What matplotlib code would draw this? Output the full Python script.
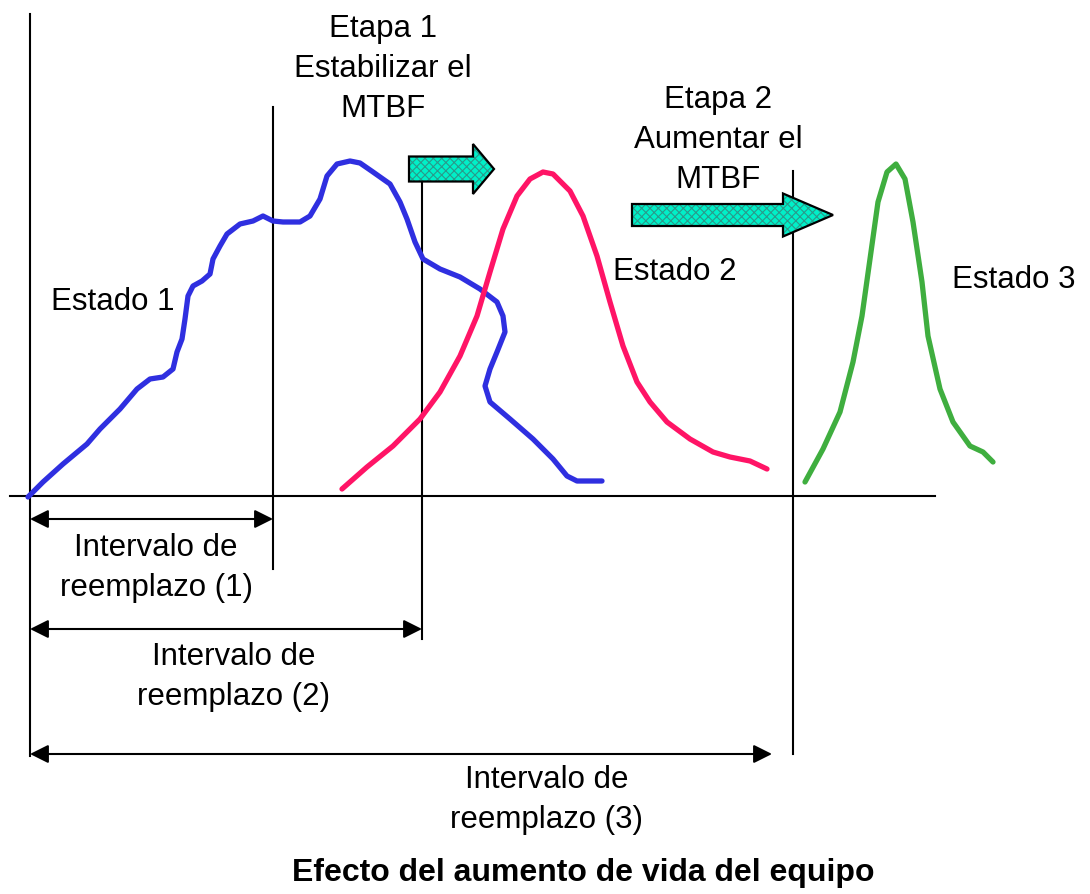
import matplotlib
matplotlib.use("Agg")
import matplotlib.pyplot as plt
from matplotlib.patches import FancyArrow

# curves (pixel coordinates, y downwards)
estado1_x = [28, 43, 63, 87, 100, 120, 137, 150, 163, 173, 177, 182, 185, 188, 193, 202, 210, 213,
             220, 227, 240, 253, 263, 273, 283, 300, 310, 320, 327, 337, 350, 360, 373, 390, 400,
             407, 415, 423, 440, 460, 480, 497, 503, 505, 497, 490, 485, 490, 510, 533, 553, 567,
             577, 602]
estado1_y = [498, 483, 465, 445, 430, 410, 390, 380, 378, 370, 353, 340, 320, 297, 287, 282, 275, 260,
             247, 235, 225, 222, 217, 222, 223, 223, 217, 200, 177, 165, 162, 164, 173, 185, 203,
             220, 243, 260, 270, 278, 290, 303, 317, 333, 353, 370, 387, 403, 420, 440, 460, 477,
             482, 482]
estado2_x = [342, 367, 393, 420, 440, 460, 477, 490, 503, 517, 530, 543, 553, 570, 583, 597, 610,
             623, 637, 650, 667, 690, 713, 730, 750, 767]
estado2_y = [490, 468, 447, 420, 393, 357, 317, 273, 230, 197, 180, 173, 175, 192, 217, 257, 303,
             347, 383, 403, 423, 440, 453, 458, 462, 470]
estado3_x = [805, 823, 840, 853, 862, 870, 878, 887, 896, 905, 913, 922, 928, 940, 953, 970, 983, 993]
estado3_y = [483, 450, 413, 363, 317, 260, 203, 173, 165, 180, 223, 283, 337, 390, 423, 447, 453, 463]

interval_ends = [273, 422, 772]
interval_rows = [520, 630, 755]
interval_labels = ["Intervalo de\nreemplazo (1)", "Intervalo de\nreemplazo (2)", "Intervalo de\nreemplazo (3)"]
interval_label_pos = [(156, 568), (234, 677), (547, 800)]

estado_labels = ["Estado 1", "Estado 2", "Estado 3"]
estado_label_pos = [(51, 302), (613, 272), (952, 280)]

fig = plt.figure(figsize=(10.9, 8.95), dpi=100)
ax = fig.add_axes([0, 0, 1, 1])
ax.set_xlim(0, 1090)
ax.set_ylim(895, 0)
ax.axis("off")

font = {"family": "Liberation Sans", "size": 22.5}
plt.rcParams["hatch.linewidth"] = 0.8

# frame lines
ax.plot([30, 30], [15, 757], color="black", lw=1.5)
ax.plot([10, 935], [497, 497], color="black", lw=1.5)
ax.plot([273, 273], [108, 570], color="black", lw=1.5)
ax.plot([422, 422], [183, 640], color="black", lw=1.5)
ax.plot([793, 793], [172, 755], color="black", lw=1.5)

# curves
ax.plot(estado1_x, estado1_y, color="#2f2fe0", lw=3.8, solid_capstyle="round", solid_joinstyle="round")
ax.plot(estado2_x, estado2_y, color="#ff1466", lw=3.8, solid_capstyle="round", solid_joinstyle="round")
ax.plot(estado3_x, estado3_y, color="#3fae3f", lw=3.8, solid_capstyle="round", solid_joinstyle="round")

# replacement intervals
for xe, yr in zip(interval_ends, interval_rows):
    ax.annotate("", xy=(xe, yr), xytext=(30, yr),
                arrowprops=dict(arrowstyle="<|-|>", color="black", lw=1.5,
                                mutation_scale=28, shrinkA=0, shrinkB=0))
for lab, (tx, ty) in zip(interval_labels, interval_label_pos):
    ax.text(tx, ty, lab, ha="center", va="center", linespacing=1.45, **font)

# block arrows: hatched fill, then black outline
for x0, yc, length, w, hw, hl in [(409, 170, 85, 25, 50, 21), (632, 216, 201, 22, 43, 50)]:
    kw = dict(width=w, head_width=hw, head_length=hl, length_includes_head=True)
    ax.add_patch(FancyArrow(x0, yc, length, 0, facecolor="#00f0c8", edgecolor="#2a9a8a",
                            lw=0, hatch="xxxx", zorder=3, **kw))
    ax.add_patch(FancyArrow(x0, yc, length, 0, fill=False, edgecolor="black", lw=1.6,
                            zorder=4, **kw))

ax.text(383, 69, "Etapa 1\nEstabilizar el\nMTBF", ha="center", va="center", linespacing=1.45, **font)
ax.text(718, 140, "Etapa 2\nAumentar el\nMTBF", ha="center", va="center", linespacing=1.45, **font)
for lab, (tx, ty) in zip(estado_labels, estado_label_pos):
    ax.text(tx, ty, lab, ha="left", va="center", **font)

ax.text(583, 873, "Efecto del aumento de vida del equipo", ha="center", va="center",
        family="Liberation Sans", size=23, weight="bold")

fig.savefig("out.png", dpi=100)
